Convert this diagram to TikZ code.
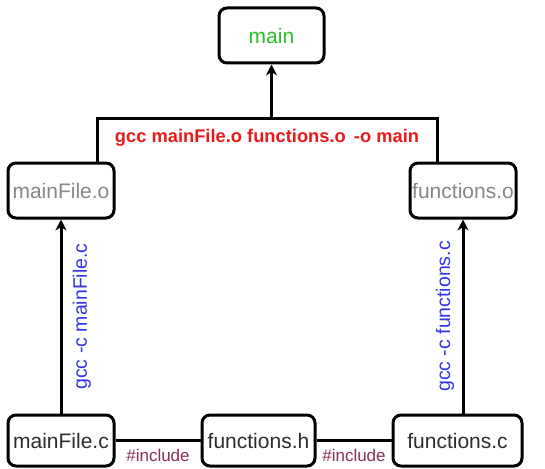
\documentclass[tikz,border=0pt]{standalone}
\usepackage{fontspec}
\setmainfont{Liberation Sans}
\usetikzlibrary{positioning,calc,arrows.meta}

\definecolor{exegreen}{RGB}{40,190,40}
\definecolor{objgray}{RGB}{135,135,135}
\definecolor{srcgray}{RGB}{45,45,45}
\definecolor{cmdblue}{RGB}{50,50,235}
\definecolor{cmdred}{RGB}{235,25,25}
\definecolor{incmaroon}{RGB}{140,45,90}

\tikzset{
    filebox/.style={draw, line width=3pt, rounded corners=8pt, fill=white,
        inner sep=0pt, font=\fontsize{21}{25}\selectfont},
    arr/.style={line width=3pt, -{Stealth[length=11pt,width=11pt]}},
    link/.style={line width=3pt},
    gcclbl/.style={text=cmdblue, font=\fontsize{19.5}{24}\selectfont},
    inclbl/.style={text=incmaroon, font=\fontsize{17}{20}\selectfont}
}

\begin{document}
\begin{tikzpicture}[x=1pt,y=-1pt]
    \useasboundingbox (0,0) rectangle (545,468);

    % files
    \node[filebox, minimum width=105pt, minimum height=55pt, text=exegreen] (main) at (271.5,35.5) {main};
    \node[filebox, minimum width=106pt, minimum height=55pt, text=objgray] (mainO) at (61,190.5) {mainFile.o};
    \node[filebox, minimum width=106pt, minimum height=55pt, text=objgray] (funcO) at (463,190.5) {functions.o};
    \node[filebox, minimum width=106pt, minimum height=51pt, text=srcgray] (mainC) at (61,440.5) {mainFile.c};
    \node[filebox, minimum width=113pt, minimum height=51pt, text=srcgray] (funcH) at (258.5,440.5) {functions.h};
    \node[filebox, minimum width=129pt, minimum height=51pt, text=srcgray] (funcC) at (457.5,440.5) {functions.c};

    % linking step
    \coordinate (barL) at (97,118);
    \coordinate (barR) at (437,118);
    \draw[link] (barL |- mainO.north) -- (barL)
        -- node[midway, below=6pt, text=cmdred, font=\fontsize{18.3}{22}\selectfont\bfseries]
           {gcc mainFile.o functions.o \,-o main} (barR)
        -- (barR |- funcO.north);
    \draw[arr] (barL -| main.south) -- (main.south);

    % compile steps
    \draw[arr] (mainC.north -| mainO.south) -- node[midway, sloped, below=7pt, gcclbl] {gcc -c mainFile.c} (mainO.south);
    \draw[arr] (funcC.north -| funcO.south) -- node[midway, sloped, above=4pt, gcclbl] {gcc -c functions.c} (funcO.south);

    % includes
    \draw[link] (mainC) -- node[midway, below=4pt, inclbl] {\#include} (funcH);
    \draw[link] (funcH) -- node[midway, below=4pt, inclbl] {\#include} (funcC);
\end{tikzpicture}
\end{document}
